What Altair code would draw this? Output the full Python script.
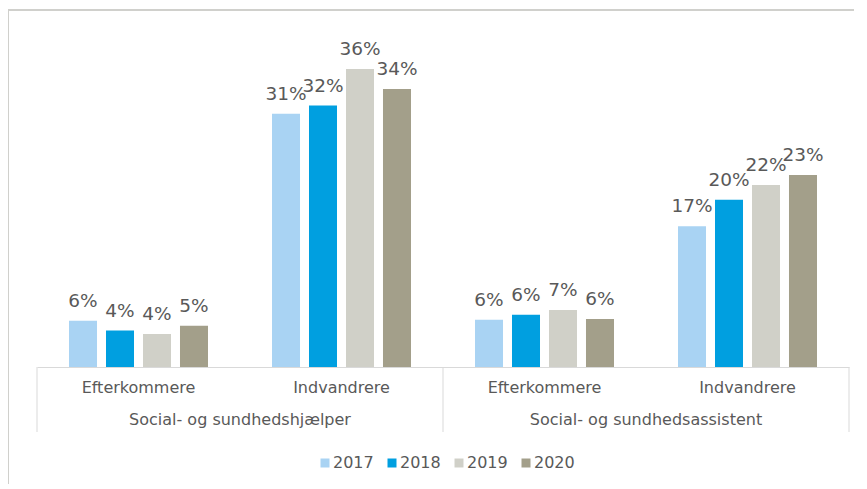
import altair as alt
import pandas as pd

# ---- data ----
groups = ["Social- og sundhedshjælper", "Social- og sundhedsassistent"]
subgroups = ["Efterkommere", "Indvandrere"]
years = ["2017", "2018", "2019", "2020"]
colors = ["#A9D3F3", "#009FE0", "#D0D0C8", "#A39F8A"]

shj_efterkommere = [5.6, 4.4, 4.0, 5.0]
shj_indvandrere = [30.6, 31.6, 36.0, 33.6]
ssa_efterkommere = [5.7, 6.3, 6.9, 5.8]
ssa_indvandrere = [17.0, 20.2, 22.0, 23.2]

series = {
    (groups[0], subgroups[0]): shj_efterkommere,
    (groups[0], subgroups[1]): shj_indvandrere,
    (groups[1], subgroups[0]): ssa_efterkommere,
    (groups[1], subgroups[1]): ssa_indvandrere,
}

cats = [f"{g}|{s}" for g in groups for s in subgroups]
rows = []
for (g, s), vals in series.items():
    for y, v in zip(years, vals):
        rows.append({"cat": f"{g}|{s}", "year": y, "value": v, "label": f"{v:.0f}%"})
df = pd.DataFrame(rows)

FONT = "DejaVu Sans"
TXT = "#595959"
LINE = "#D9D9D9"
W, H = 812, 331

x_enc = dict(
    field="cat", type="nominal", sort=cats,
    scale=alt.Scale(paddingInner=0, paddingOuter=0),
    axis=alt.Axis(title=None, ticks=False, domainColor=LINE, domainWidth=1,
                  labelExpr="split(datum.label, '|')[1]", labelFont=FONT,
                  labelFontSize=16, labelColor=TXT, labelPadding=12,
                  labelAngle=0, grid=False),
)
y_enc = alt.Y("value:Q", scale=alt.Scale(domain=[0, 40]), axis=None)
xoff = alt.XOffset("year:N", sort=years,
                   scale=alt.Scale(paddingInner=0.243, paddingOuter=0.865))

bars = alt.Chart(df).mark_bar().encode(
    x=alt.X(**x_enc), xOffset=xoff, y=y_enc,
    color=alt.Color("year:N", scale=alt.Scale(domain=years, range=colors),
                    legend=alt.Legend(orient="none", legendX=280, legendY=419,
                                      direction="horizontal", title=None,
                                      symbolType="square", symbolSize=81,
                                      symbolStrokeWidth=0, labelFontSize=16,
                                      labelFont=FONT, labelColor=TXT,
                                      labelOffset=0, columnPadding=10)),
)

labels = alt.Chart(df).mark_text(
    dy=-14, baseline="alphabetic", fontSize=18.5, font=FONT, color=TXT
).encode(x=alt.X(**x_enc), xOffset=xoff, y=y_enc, text="label:N")

grp_df = pd.DataFrame({"cat": [f"{g}|{subgroups[1]}" for g in groups], "name": groups})
grp_labels = alt.Chart(grp_df).mark_text(
    fontSize=16, font=FONT, color=TXT, baseline="middle"
).encode(x=alt.X(**x_enc, bandPosition=0), y=alt.value(H + 53), text="name:N")

left_div = alt.Chart(pd.DataFrame({"cat": [f"{g}|{subgroups[0]}" for g in groups]})).mark_rule(
    color=LINE, strokeWidth=1
).encode(x=alt.X(**x_enc, bandPosition=0), y=alt.value(H), y2=alt.value(H + 65))

right_div = alt.Chart(pd.DataFrame({"cat": [cats[-1]]})).mark_rule(
    color=LINE, strokeWidth=1
).encode(x=alt.X(**x_enc, bandPosition=1), y=alt.value(H), y2=alt.value(H + 65))

border = alt.Chart(pd.DataFrame({"a": [0]})).mark_rect(
    fill="transparent", stroke="#D0D0CC", strokeWidth=2
).encode(x=alt.value(-29), x2=alt.value(900), y=alt.value(-26), y2=alt.value(600))

chart = alt.layer(border, bars, labels, left_div, right_div, grp_labels).properties(
    width=W, height=H,
    autosize=alt.AutoSizeParams(type="none"),
    padding={"left": 29, "top": 28, "right": 5, "bottom": 117},
).configure(font=FONT).configure_view(strokeWidth=0, stroke="transparent")

chart.save("out.html", embed_options={"renderer": "svg", "actions": False})
